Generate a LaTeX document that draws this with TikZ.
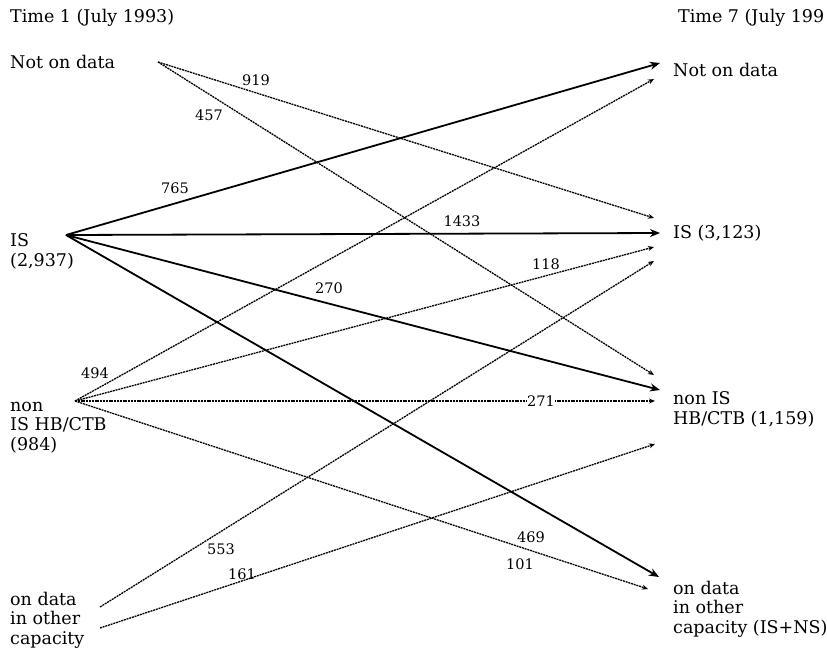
\documentclass[tikz,border=0pt]{standalone}
\usepackage{fontspec}
\setmainfont{DejaVu Serif}
\usetikzlibrary{arrows.meta}
\begin{document}
\begin{tikzpicture}[x=1pt,y=-1pt,
  lbl/.style={anchor=base west, inner sep=0pt, align=left, font=\fontsize{17.5}{19.5}\selectfont},
  num/.style={inner sep=1pt, font=\fontsize{14.5}{16}\selectfont},
  solidflow/.style={line width=1.8pt, -{Stealth[length=10pt,width=8pt]}},
  dotflow/.style={line width=1.3pt, dash pattern=on 2pt off 0.8pt, -{Stealth[length=6pt,width=5pt,open]}}]
\useasboundingbox (0,0) rectangle (827,654);
\fill[white] (0,0) rectangle (827,654);
% headers and category labels (anchor = baseline of last line)
\node[lbl] (h1) at (10,22) {Time 1 (July 1993)};
\node[lbl] (h7) at (678,22) {Time 7 (July 199};
\node[lbl] (lNot) at (10,68) {Not on data};
\node[lbl] (lIS) at (10,266) {IS\\(2,937)};
\node[lbl] (lNon) at (10,450) {non\\IS HB/CTB\\(984)};
\node[lbl] (lOther) at (10,644) {on data\\in other\\capacity};
\node[lbl] (rNot) at (673,76) {Not on data};
\node[lbl] (rIS) at (673,238) {IS (3,123)};
\node[lbl] (rNon) at (673,424) {non IS\\HB/CTB (1,159)};
\node[lbl] (rOther) at (673,633) {on data\\in other\\capacity (IS+NS)};
% source points
\coordinate (sNot) at (158,62);
\coordinate (sIS) at (66,235);
\coordinate (sNon) at (75,401);
\coordinate (sOtherA) at (100,607);
\coordinate (sOtherB) at (100,628);
% target points
\coordinate (tNotS) at (660,63);
\coordinate (tNotD) at (654,79);
\coordinate (tISa) at (654,218);
\coordinate (tISS) at (660,233);
\coordinate (tISb) at (654,247);
\coordinate (tISc) at (654,261);
\coordinate (tNonA) at (654,375);
\coordinate (tNonS) at (660,390);
\coordinate (tNonB) at (655,401);
\coordinate (tNonC) at (655,444);
\coordinate (tOthS) at (659,577);
\coordinate (tOthD) at (648,589);
% flows from Not on data
\draw[dotflow] (sNot) -- (tISa);
\draw[dotflow] (sNot) -- (tNonA);
% flows from IS
\draw[solidflow] (sIS) -- (tNotS);
\draw[solidflow] (sIS) -- (tISS);
\draw[solidflow] (sIS) -- (tNonS);
\draw[solidflow] (sIS) -- (tOthS);
% flows from non IS HB/CTB
\draw[dotflow] (sNon) -- (tNotD);
\draw[dotflow] (sNon) -- (tISb);
\draw[dotflow] (sNon) -- (tNonB);
\draw[dotflow] (sNon) -- (tOthD);
% flows from on data in other capacity
\draw[dotflow] (sOtherA) -- (tISc);
\draw[dotflow] (sOtherB) -- (tNonC);
% numbers
\node[num] (n919) at (256,80) {919};
\node[num] (n457) at (209,115) {457};
\node[num] (n765) at (175,188) {765};
\node[num] (n1433) at (462,221) {1433};
\node[num] (n118) at (546,264) {118};
\node[num] (n270) at (329,288) {270};
\node[num] (n494) at (95,373) {494};
\node[num, fill=white, inner sep=0.5pt] (n271) at (541,401) {271};
\node[num] (n469) at (531,537) {469};
\node[num] (n101) at (520,564) {101};
\node[num] (n553) at (221,549) {553};
\node[num] (n161) at (242,574) {161};
\end{tikzpicture}
\end{document}
